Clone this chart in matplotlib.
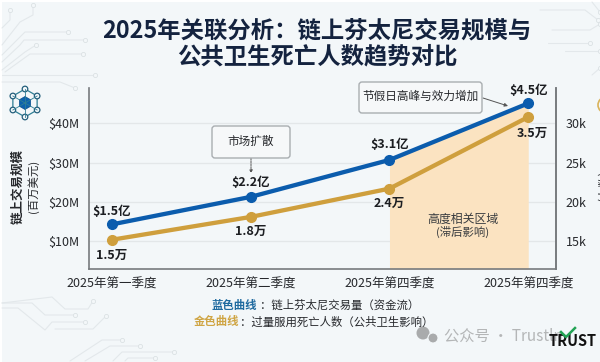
import numpy as np
import matplotlib
matplotlib.use("Agg")
import matplotlib.pyplot as plt
from matplotlib.patches import FancyBboxPatch, Circle, Polygon, Rectangle

plt.rcParams['font.family'] = ['Noto Sans CJK SC', 'DejaVu Sans']

# data
quarters = ["2025年第一季度", "2025年第二季度", "2025年第四季度", "2025年第四季度"]
volume_musd = [14.3, 21.3, 30.7, 45.1]
deaths_k = [15.2, 18.1, 21.7, 30.8]
volume_labels = ["$1.5亿", "$2.2亿", "$3.1亿", "$4.5亿"]
deaths_labels = ["1.5万", "1.8万", "2.4万", "3.5万"]
left_ticks = [10, 20, 30, 40]
left_ticklabels = ["$10M", "$20M", "$30M", "$40M"]
right_ticks = [15, 20, 25, 30]
right_ticklabels = ["15k", "20k", "25k", "30k"]

BLUE = "#0b5cad"
GOLD = "#cf9f3d"
BG = "#f3f7f9"
TXT = "#26282c"
W, H = 600, 362

fig = plt.figure(figsize=(W / 100, H / 100), dpi=100, facecolor="white")

# background layer, pixel coords
bg = fig.add_axes([0, 0, 1, 1], zorder=0)
bg.set_xlim(0, W)
bg.set_ylim(H, 0)
bg.axis("off")
bg.add_patch(Rectangle((2, 2), W, H, fc=BG, ec="none"))

circuits = [
    [(2, 28), (10, 20), (10, 10)],
    [(2, 45), (20, 22), (33, 15), (33, 5)],
    [(2, 55), (25, 32), (68, 32)],
    [(2, 62), (20, 45), (24, 40), (85, 40)],
    [(2, 70), (25, 52), (36, 45)],
    [(5, 72), (30, 54), (83, 54)],
    [(2, 75), (55, 75), (95, 75)],
    [(2, 82), (60, 82), (75, 88)],
    [(2, 303), (52, 297), (65, 309), (88, 309), (93, 301)],
    [(2, 303), (32, 303), (45, 315), (75, 315)],
    [(2, 308), (18, 308), (45, 330), (52, 322), (85, 322)],
    [(55, 329), (93, 329), (106, 316)],
    [(70, 361), (102, 340), (122, 340)],
    [(85, 361), (110, 346), (140, 346)],
    [(113, 361), (122, 352), (174, 352)],
    [(125, 361), (128, 358), (155, 358)],
    [(592, 2), (600, 12)],
    [(540, 10), (585, 10), (598, 20)],
    [(552, 30), (590, 30), (600, 24)],
    [(548, 43), (590, 43)],
    [(565, 51), (600, 51)],
    [(592, 75), (600, 68)],
]
for path in circuits:
    xs, ys = zip(*path)
    bg.plot(xs, ys, color="#e3e8eb", lw=0.8, solid_capstyle="round")
    bg.plot(xs[-1], ys[-1], "o", ms=3, mfc=BG, mec="#dbe1e4", mew=0.6)

# main chart
ax = fig.add_axes([88.5 / W, 1 - 269 / H, (556 - 88.5) / W, (269 - 88) / H], zorder=1)
ax.patch.set_alpha(0)
x = np.arange(len(quarters))
ax.set_xlim(-0.169, 3.2)
ax.set_ylim(2.95, 49)
ax.set_xticks(x)
ax.set_xticklabels(quarters, fontsize=9, color=TXT)
ax.set_yticks(left_ticks)
ax.set_yticklabels(left_ticklabels, fontsize=9, color=TXT)
ax.tick_params(axis="x", length=0, pad=6)
ax.tick_params(axis="y", length=0, pad=6.8)
ax.grid(axis="y", color="#e3e7e9", lw=0.9, zorder=0)
ax.set_axisbelow(True)
ax.fill_between(x[2:], 2.95, volume_musd[2:], color="#fbe3c1", lw=0, zorder=1)
ax.spines["top"].set_visible(False)
for s in ["left", "bottom", "right"]:
    ax.spines[s].set_color("#777b7e")
    ax.spines[s].set_linewidth(1.2)
ax.plot(x, volume_musd, color=BLUE, lw=3.1, marker="o", ms=7, zorder=3)

ax2 = ax.twinx()
ax2.set_zorder(2)
ax2.set_ylim(11.48, 34.49)
ax2.set_yticks(right_ticks)
ax2.set_yticklabels(right_ticklabels, fontsize=9, color=TXT)
ax2.tick_params(axis="y", length=0, pad=7)
ax2.spines["top"].set_visible(False)
ax2.spines["left"].set_visible(False)
ax2.spines["bottom"].set_visible(False)
ax2.spines["right"].set_color("#777b7e")
ax2.spines["right"].set_linewidth(1.2)
ax2.plot(x, deaths_k, color=GOLD, lw=3.1, marker="o", ms=7, zorder=3)

# value labels, offsets in points
blue_off = [(0, 9.5), (0, 10), (0, 11), (0, 9)]
gold_off = [(0, -11), (0, -10.5), (0, -11), (3, -12)]
for i in range(len(x)):
    ax.annotate(volume_labels[i], (x[i], volume_musd[i]), xytext=blue_off[i], textcoords="offset points",
                ha="center", va="center", fontsize=9, fontweight="bold", color="#1c1e22")
    ax2.annotate(deaths_labels[i], (x[i], deaths_k[i]), xytext=gold_off[i], textcoords="offset points",
                 ha="center", va="center", fontsize=9, fontweight="bold", color="#1c1e22")

# everything else on top, pixel coords
top = fig.add_axes([0, 0, 1, 1], zorder=3)
top.set_xlim(0, W)
top.set_ylim(H, 0)
top.axis("off")
top.patch.set_alpha(0)

top.text(317, 31, "2025年关联分析：链上芬太尼交易规模与", ha="center", va="center",
         fontsize=16.8, fontweight="bold", color="#14233f")
top.text(317.5, 56, "公共卫生死亡人数趋势对比", ha="center", va="center",
         fontsize=16.8, fontweight="bold", color="#14233f")

top.text(18, 187, "链上交易规模", rotation=90, ha="center", va="center",
         fontsize=9, fontweight="bold", color=TXT)
top.text(33, 186, "(百万美元)", rotation=90, ha="center", va="center", fontsize=8.2, color=TXT)
top.text(604, 185, "(人数)", rotation=90, ha="center", va="center", fontsize=8.6, color=TXT)
top.add_patch(Circle((606, 105), 8, fc="none", ec="#d9b35a", lw=1.2))

top.text(463, 219, "高度相关区域", ha="center", va="center", fontsize=8.6, color="#3a3d40")
top.text(463, 232, "(滞后影响)", ha="center", va="center", fontsize=8.2, color="#3a3d40")

# callouts
for bx, by, bw, bh, label in [(212, 126, 78, 32, "市场扩散"), (359, 82, 123, 31, "节假日高峰与效力增加")]:
    top.add_patch(FancyBboxPatch((bx + 2, by + 2), bw - 4, bh - 4, boxstyle="round,pad=2,rounding_size=3",
                                 fc="#f6f8f9", ec="#a9aeb1", lw=1, zorder=4))
    top.text(bx + bw / 2, by + bh / 2 - 1, label, ha="center", va="center", fontsize=8.4, color=TXT, zorder=5)
top.annotate("", xy=(251, 173), xytext=(251, 158),
             arrowprops=dict(arrowstyle="-|>,head_length=0.15,head_width=0.08", color="#555", lw=0.7,
                             linestyle=(0, (2, 1)), shrinkA=0, shrinkB=0))
top.annotate("", xy=(508, 106), xytext=(483, 98),
             arrowprops=dict(arrowstyle="-|>,head_length=0.2,head_width=0.1", color="#555", lw=0.7,
                             shrinkA=0, shrinkB=0))

# legend lines
top.text(212, 305, "蓝色曲线", ha="left", va="center", fontsize=8.2, fontweight="bold", color="#1f6a9f")
top.text(260, 305, "：链上芬太尼交易量（资金流）", ha="left", va="center", fontsize=8.2, color=TXT)
top.text(194, 322, "金色曲线", ha="left", va="center", fontsize=8.2, fontweight="bold", color="#cfa544")
top.text(240.5, 322, "：过量服用死亡人数（公共卫生影响）", ha="left", va="center", fontsize=8.2, color=TXT)

# watermark
top.add_patch(Circle((423, 333), 6.5, fc="#a9abac", ec="none"))
top.add_patch(Circle((433, 338), 5, fc="#a9abac", ec=BG, lw=0.8))
top.text(444, 336, "公众号 · Trustln", ha="left", va="center", fontsize=11, color="#b4b6b7")
top.text(549, 341, "TRUST", ha="left", va="center", fontsize=10.5, fontweight="black", color="#111111", zorder=6)
top.plot([561, 566, 575], [332, 337, 328], color="#23a455", lw=1.8, zorder=7)

# network icon top left
cx, cy = 25, 103
ang = np.deg2rad(np.arange(30, 390, 60))
nx, ny = cx + 14 * np.cos(ang), cy + 14 * np.sin(ang)
top.add_patch(Polygon(np.column_stack([nx, ny]), closed=True, fc="none", ec="#2f7f95", lw=0.9))
for a, b in zip(nx, ny):
    top.plot([cx, a], [cy, b], color="#2f7f95", lw=0.6)
    top.add_patch(Circle((a, b), 2.8, fc=BG, ec="#245f7c", lw=0.9))
top.add_patch(Polygon(np.column_stack([cx + 6.5 * np.cos(ang), cy + 6.5 * np.sin(ang)]), closed=True,
                      fc="#0d62ad", ec="#0b4f8d", lw=0.5))

fig.savefig("out.png", dpi=100, facecolor="white")
